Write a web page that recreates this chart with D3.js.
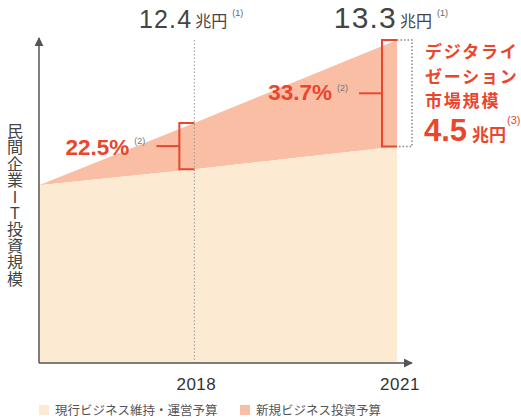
<!DOCTYPE html>
<html>
<head>
<meta charset="utf-8">
<script src="https://cdn.jsdelivr.net/npm/d3@7"></script>
<style>
  body { margin: 0; background: #fff; }
  text { font-family: "Liberation Sans", "Noto Sans CJK JP", sans-serif; }
</style>
</head>
<body>
<svg id="chart"></svg>
<script>
// periods along the x axis (first one is the unlabeled start of the chart)
var years = [2015.7, 2018, 2021];
var yearLabels = ["", "2018", "2021"];
// conceptual index values
var currentBudget = [5.5, 6.0, 6.7];
var newBudget = [0, 1.43, 3.3];
// annotations
var totals = ["12.4", "13.3"];
var shares = ["22.5%", "33.7%"];
var marketSize = "4.5";
var legendLabels = ["現行ビジネス維持・運営予算", "新規ビジネス投資予算"];

var colors = { current: "#fcebd2", newer: "#fabea4", red: "#e9462d", axis: "#555", text: "#444" };

var width = 521, height = 420;
var margin = { top: 40, right: 124, bottom: 57, left: 39 };

var svg = d3.select("#chart").attr("width", width).attr("height", height);

var x = d3.scaleLinear().domain([years[0], years[2]]).range([margin.left, width - margin.right]);
var y = d3.scaleLinear().domain([0, 10]).range([height - margin.bottom, margin.top]);

var data = years.map(function (yr, i) {
  return { year: yr, cur: currentBudget[i], total: currentBudget[i] + newBudget[i] };
});

// areas
svg.append("path")
  .datum(data)
  .attr("fill", colors.newer)
  .attr("d", d3.area().x(function (d) { return x(d.year); }).y0(function (d) { return y(d.cur); }).y1(function (d) { return y(d.total); }));

svg.append("path")
  .datum(data)
  .attr("fill", colors.current)
  .attr("d", d3.area().x(function (d) { return x(d.year); }).y0(y(0)).y1(function (d) { return y(d.cur); }));

// dotted guide at 2018
svg.append("line")
  .attr("x1", x(years[1])).attr("x2", x(years[1]))
  .attr("y1", y(10)).attr("y2", y(0))
  .attr("stroke", "#999").attr("stroke-width", 1).attr("stroke-dasharray", "1.5,2");

// dotted box at 2021
var last = data[2];
svg.append("path")
  .attr("d", "M" + x(last.year) + "," + y(last.total) + "H" + (x(last.year) + 15) + "V" + y(last.cur) + "H" + x(last.year))
  .attr("fill", "none").attr("stroke", "#888").attr("stroke-width", 1.5).attr("stroke-dasharray", "1.5,2");

// axes with arrows
svg.append("defs").append("marker")
  .attr("id", "arrow").attr("viewBox", "0 0 10 10").attr("refX", 9).attr("refY", 5)
  .attr("markerWidth", 6).attr("markerHeight", 6).attr("orient", "auto")
  .append("path").attr("d", "M0,0L10,5L0,10Z").attr("fill", colors.axis);

svg.append("line")
  .attr("x1", x(years[0])).attr("x2", x(years[0]))
  .attr("y1", y(0)).attr("y2", y(10) - 2)
  .attr("stroke", colors.axis).attr("stroke-width", 1.5).attr("marker-end", "url(#arrow)");

svg.append("line")
  .attr("x1", x(years[0])).attr("x2", x(years[2]) + 15)
  .attr("y1", y(0)).attr("y2", y(0))
  .attr("stroke", colors.axis).attr("stroke-width", 1.5).attr("marker-end", "url(#arrow)");

// year labels
svg.selectAll(".year")
  .data(data.slice(1))
  .enter().append("text")
  .attr("class", "year")
  .attr("x", function (d, i) { return x(d.year) + (i === 1 ? 3 : 2); })
  .attr("y", y(0) + 27)
  .attr("text-anchor", "middle")
  .attr("font-size", 17)
  .attr("letter-spacing", 0.5)
  .attr("fill", "#333")
  .text(function (d, i) { return yearLabels[i + 1]; });

// y axis title, stacked vertically
var yTitle = "民間企業ＩＴ投資規模".split("");
svg.selectAll(".ytitle")
  .data(yTitle)
  .enter().append("text")
  .attr("class", "ytitle")
  .attr("x", 15)
  .attr("y", function (d, i) { return 137 + i * 16.4; })
  .attr("text-anchor", "middle")
  .attr("font-size", 16)
  .attr("fill", "#444")
  .text(function (d) { return d === "Ｉ" ? "I" : d === "Ｔ" ? "T" : d; });

// total labels at the top
[1, 2].forEach(function (k, i) {
  var xx = x(data[k].year) + (i === 0 ? -2 : 0);
  var fs = i === 0 ? 25 : 30;
  svg.append("text")
    .attr("x", xx).attr("y", 28)
    .attr("text-anchor", "end")
    .attr("font-size", fs).attr("letter-spacing", 1.2)
    .attr("fill", colors.text)
    .text(totals[i]);
  svg.append("text")
    .attr("x", xx + 3).attr("y", 27)
    .attr("font-size", 16).attr("fill", colors.text)
    .text("兆円");
  svg.append("text")
    .attr("x", xx + 40).attr("y", 16)
    .attr("font-size", 9).attr("fill", "#666")
    .text("(1)");
});

// red brackets for the new business share
[1, 2].forEach(function (k, i) {
  var d = data[k];
  var xr = x(d.year), xl = xr - 15;
  var mid = (y(d.total) + y(d.cur)) / 2;
  svg.append("path")
    .attr("d", "M" + xr + "," + y(d.total) + "H" + xl + "V" + y(d.cur) + "H" + xr)
    .attr("fill", "none").attr("stroke", colors.red).attr("stroke-width", 2);
  svg.append("line")
    .attr("x1", xl - 23).attr("x2", xl)
    .attr("y1", mid).attr("y2", mid)
    .attr("stroke", colors.red).attr("stroke-width", 2);
  svg.append("text")
    .attr("x", xl - 50).attr("y", mid + (i === 0 ? 9 : 7))
    .attr("text-anchor", "end")
    .attr("font-size", 22.5).attr("font-weight", "bold")
    .attr("fill", colors.red)
    .text(shares[i]);
  svg.append("text")
    .attr("x", xl - 45).attr("y", mid - 2)
    .attr("font-size", 9).attr("fill", "#777")
    .text("(2)");
});

// digitalization market label
var rx = 425;
["デジタライ", "ゼーション", "市場規模"].forEach(function (line, i) {
  svg.append("text")
    .attr("x", rx).attr("y", 58 + i * 24.5)
    .attr("font-size", 17).attr("font-weight", "bold")
    .attr("letter-spacing", 1.8)
    .attr("fill", colors.red)
    .text(line);
});
svg.append("text")
  .attr("x", rx - 1).attr("y", 141)
  .attr("font-size", 31).attr("font-weight", "bold")
  .attr("fill", colors.red)
  .text(marketSize);
svg.append("text")
  .attr("x", rx + 47).attr("y", 141)
  .attr("font-size", 17).attr("font-weight", "bold")
  .attr("fill", colors.red)
  .text("兆円");
svg.append("text")
  .attr("x", rx + 82).attr("y", 124)
  .attr("font-size", 11).attr("fill", colors.red)
  .text("(3)");

// legend
var legend = svg.selectAll(".legend")
  .data(legendLabels)
  .enter().append("g")
  .attr("class", "legend")
  .attr("transform", function (d, i) { return "translate(" + (i === 0 ? 39 : 240) + ",405)"; });

legend.append("rect")
  .attr("width", 10).attr("height", 10)
  .attr("fill", function (d, i) { return i === 0 ? colors.current : colors.newer; });

legend.append("text")
  .attr("x", 16).attr("y", 10)
  .attr("font-size", 12.5).attr("fill", "#555")
  .text(function (d) { return d; });
</script>
</body>
</html>
